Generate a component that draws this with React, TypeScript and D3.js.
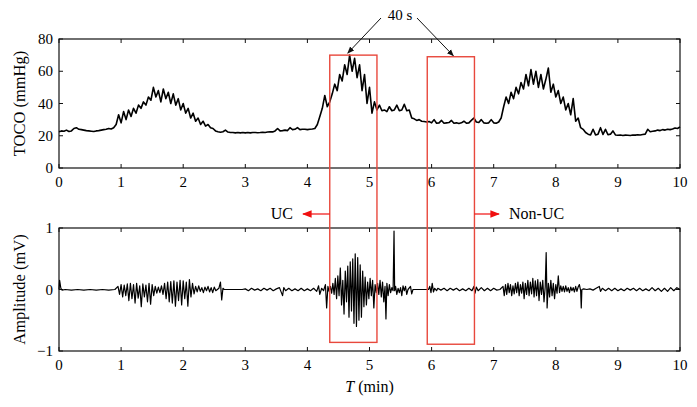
import React from "react";
import * as d3 from "d3";

// TOCO trace, sampled every 0.04 min from 0 to 10 min (mmHg)
const tocoValues = [
  22.5, 23, 22.8, 23.5, 22.6, 23, 24.5, 25, 24, 23.8, 23.5, 23.2, 23, 22.8, 22.6, 23, 23.2, 23.5, 23.8, 24, 24.5, 24.2, 25,
  27, 33, 28, 35, 30, 36, 32, 37, 34, 39, 37, 41, 39, 44, 42,
  50, 44, 48, 41, 49, 43, 47, 40,
  46, 39, 43, 36, 40, 34, 37, 31, 34, 29, 31, 27, 29, 26, 27, 25, 24.5,
  23, 22.5, 22.2, 22.5, 23.5, 22.3, 22, 22, 21.8, 22, 21.8, 22, 21.8, 22, 21.8, 22, 22, 21.9, 22, 22.2,
  22, 22.3, 22.5, 22.4, 23, 24.5, 23, 23.2, 23.5, 23.2, 25, 23.8, 24, 25, 23.8, 24, 24, 23.8, 24, 24.2,
  24.5, 27, 32, 37, 45, 38, 41, 46,
  52, 48, 58, 54, 64, 58, 70, 60, 68, 56, 64,
  48, 58, 40, 50, 34, 41,
  36, 39, 35.5, 36, 35, 38, 35.5, 36, 39, 35.5, 36, 39.5, 35.5,
  36, 31, 30.5, 29.5, 30, 29, 28.8,
  28.5, 28.8, 28, 30, 27.8, 28, 29.5, 27.8, 28, 28.2, 29.5, 27.8, 28, 27.6, 28,
  29, 27.8, 28, 29.5, 31, 28.5, 28.2, 30, 28, 27.8, 28, 30, 28, 27.8, 28.5,
  31, 38, 44, 40, 47, 43, 50, 46, 53, 49, 58, 51, 61,
  52, 60, 50, 58, 49, 55, 62, 47, 52, 44,
  48, 40, 44, 36, 40, 33, 43, 29, 31, 25, 24, 22,
  21, 20.5, 24, 20.5, 21, 25, 20.8, 24, 20.6, 21, 23, 20.5, 20.3, 20.5, 20.2, 20.4, 20.3, 20.2, 20.5,
  20.4, 20.6, 20.5, 20.8, 21, 24, 22.5, 22.8, 23, 23.5, 23.2, 23.8, 23.5, 24, 23.8, 24.2, 24.8, 24.5, 25.5,
];
const tocoStep = 0.04;

// EMG trace, [time (min), amplitude (mV)]
const emgPoints: [number, number][] = [
  [0, 0], [0.01, 0.15], [0.03, 0.02], [0.05, -0.01], [0.1, 0], [0.2, -0.01], [0.3, 0], [0.4, -0.01],
  [0.5, 0], [0.6, -0.01], [0.7, 0], [0.8, -0.01], [0.9, 0],
  [0.95, 0.05], [0.975, -0.08], [1.0, 0.08], [1.025, -0.12], [1.05, 0.07], [1.075, -0.1], [1.1, 0.09],
  [1.125, -0.18], [1.15, 0.1], [1.175, -0.15], [1.2, 0.08], [1.225, -0.22], [1.25, 0.1], [1.275, -0.14],
  [1.3, 0.06], [1.325, -0.28], [1.35, 0.09], [1.375, -0.12], [1.4, 0.07], [1.425, -0.2], [1.45, 0.1],
  [1.475, -0.24], [1.5, 0.08], [1.525, -0.1], [1.55, 0.05], [1.575, -0.06], [1.6, 0.04], [1.625, -0.05],
  [1.65, 0.06], [1.675, -0.08], [1.7, 0.1], [1.725, -0.15], [1.75, 0.12], [1.775, -0.2], [1.8, 0.13],
  [1.825, -0.22], [1.85, 0.14], [1.875, -0.27], [1.9, 0.12], [1.925, -0.18], [1.95, 0.15], [1.975, -0.25],
  [2.0, 0.14], [2.025, -0.15], [2.05, 0.12], [2.075, -0.27], [2.1, 0.16], [2.125, -0.12], [2.15, 0.1],
  [2.175, -0.07], [2.2, 0.05], [2.225, -0.04], [2.25, 0.06], [2.275, -0.03], [2.3, 0.03], [2.325, -0.05],
  [2.35, 0.04], [2.375, -0.02], [2.4, 0.05], [2.425, -0.04], [2.45, 0.03], [2.475, -0.05], [2.5, 0.04],
  [2.525, -0.02], [2.55, 0], [2.575, 0.02], [2.6, 0.12], [2.62, -0.17], [2.64, 0.02], [2.66, 0],
  [2.8, 0], [2.95, 0],
  [3.0, 0.01], [3.05, -0.02], [3.1, 0.02], [3.15, -0.01], [3.2, 0.01], [3.25, -0.02], [3.3, 0.02],
  [3.35, -0.01], [3.4, 0.02], [3.45, -0.02], [3.5, 0.01], [3.55, 0.03], [3.6, -0.1], [3.62, 0.03],
  [3.65, -0.02], [3.7, 0.02], [3.75, -0.02], [3.8, 0.01], [3.85, -0.02], [3.9, 0.02], [3.95, -0.02],
  [4.0, 0.01], [4.05, -0.02], [4.1, 0.02], [4.15, -0.03], [4.18, 0.06], [4.2, -0.08], [4.23, 0.02],
  [4.26, -0.02], [4.29, 0.08], [4.31, -0.3], [4.33, 0.05], [4.35, -0.03],
  [4.37, 0.05], [4.39, -0.06], [4.41, 0.1], [4.43, -0.08], [4.45, 0.18], [4.47, -0.15], [4.49, 0.22],
  [4.51, -0.1], [4.53, 0.35], [4.55, -0.25], [4.57, 0.15], [4.59, -0.4], [4.61, 0.3], [4.63, -0.2],
  [4.65, 0.38], [4.67, -0.45], [4.69, 0.45], [4.71, -0.35], [4.73, 0.5], [4.75, -0.55], [4.77, 0.58],
  [4.79, -0.6], [4.81, 0.52], [4.83, -0.5], [4.85, 0.4], [4.87, -0.45], [4.89, 0.3], [4.91, -0.28],
  [4.93, 0.2], [4.95, -0.25], [4.97, 0.12], [4.99, -0.15], [5.01, 0.18], [5.03, -0.1], [5.05, 0.15],
  [5.07, -0.3], [5.09, 0.08], [5.11, -0.05], [5.13, 0.1], [5.15, -0.08], [5.17, 0.15], [5.19, -0.12],
  [5.21, 0.12], [5.23, -0.2], [5.25, 0.05], [5.265, -0.48], [5.28, 0.1], [5.3, -0.1], [5.32, 0.08],
  [5.34, -0.05], [5.36, 0.03], [5.38, -0.02], [5.395, 0.95], [5.405, -0.02], [5.42, 0.05], [5.44, -0.08],
  [5.46, 0.02], [5.48, -0.05], [5.5, 0.03], [5.52, -0.1], [5.54, 0.06], [5.56, -0.02], [5.58, 0.05],
  [5.6, -0.08], [5.62, 0], [5.66, 0.05], [5.68, -0.07], [5.7, 0],
  [5.8, 0], [5.95, 0],
  [5.97, 0.05], [5.99, -0.05], [6.01, 0.1], [6.03, -0.04], [6.05, 0.02], [6.08, -0.02], [6.1, 0.02],
  [6.15, -0.01], [6.2, 0.02], [6.25, -0.02], [6.3, 0.02], [6.35, -0.01], [6.4, 0.02], [6.45, -0.02],
  [6.5, 0.01], [6.55, -0.02], [6.6, 0.02], [6.65, -0.02], [6.68, 0.05], [6.7, -0.06], [6.72, 0.04],
  [6.75, -0.02], [6.8, 0.03], [6.85, -0.02], [6.9, 0.02], [6.95, -0.02], [7.0, 0.02], [7.05, -0.01], [7.1, 0],
  [7.15, 0.05], [7.17, -0.1], [7.19, 0.08], [7.21, -0.08], [7.23, 0.1], [7.25, -0.05], [7.27, 0.08],
  [7.29, -0.1], [7.31, 0.06], [7.33, -0.07], [7.35, 0.1], [7.37, -0.05], [7.39, 0.12], [7.41, -0.1],
  [7.43, 0.08], [7.45, -0.06], [7.47, 0.12], [7.49, -0.15], [7.51, 0.1], [7.53, -0.08], [7.55, 0.15],
  [7.57, -0.1], [7.59, 0.12], [7.61, -0.07], [7.63, 0.18], [7.65, -0.12], [7.67, 0.14], [7.69, -0.1],
  [7.71, 0.16], [7.73, -0.18], [7.75, 0.12], [7.77, -0.08], [7.79, 0.15], [7.81, -0.2], [7.83, 0.05],
  [7.845, 0.6], [7.86, -0.3], [7.88, 0.1], [7.9, -0.12], [7.92, 0.15], [7.94, -0.1], [7.96, 0.1],
  [7.98, -0.15], [8.0, 0.08], [8.02, -0.06], [8.04, 0.22], [8.06, -0.05], [8.08, 0.06], [8.1, -0.03],
  [8.12, 0.05], [8.14, -0.04], [8.16, 0.06], [8.18, -0.03], [8.2, 0.03], [8.22, -0.05], [8.24, 0.04],
  [8.26, -0.02], [8.28, 0.03], [8.3, -0.04], [8.32, 0.05], [8.34, -0.03], [8.36, 0.04], [8.38, 0.08],
  [8.4, -0.02], [8.41, -0.3], [8.42, 0], [8.45, 0.01],
  [8.5, 0], [8.55, 0.01], [8.6, -0.01], [8.65, 0.02], [8.7, 0.05], [8.72, -0.03], [8.75, 0.02],
  [8.8, -0.02], [8.85, 0.02], [8.9, -0.02], [8.95, 0.02], [9.0, -0.02], [9.05, 0.01], [9.1, -0.02],
  [9.15, 0.02], [9.2, -0.01], [9.25, 0.02], [9.3, -0.02], [9.35, 0.02], [9.4, -0.02], [9.45, 0.01],
  [9.5, -0.02], [9.55, 0.03], [9.6, -0.02], [9.65, 0.02], [9.7, -0.03], [9.75, 0.02], [9.8, -0.03],
  [9.85, 0.03], [9.9, -0.02], [9.95, 0.03], [10, 0],
];

const xTicks = [0, 1, 2, 3, 4, 5, 6, 7, 8, 9, 10];
const tocoTicks = [0, 20, 40, 60, 80];
const ampTicks = [-1, 0, 1];

// 40 s windows: [start min, end min, top TOCO value, bottom amplitude value]
const windows: [number, number, number, number][] = [
  [4.36, 5.12, 70, -0.86],
  [5.93, 6.69, 69, -0.89],
];

const W = 697;
const H = 407;
const left = 59;
const right = 680;
const FONT = "'Liberation Serif', 'DejaVu Serif', serif";
const RED = "#e8483c";

export default function App() {
  const x = d3.scaleLinear().domain([0, 10]).range([left, right]);
  const yTop = d3.scaleLinear().domain([0, 80]).range([168, 39]);
  const yBot = d3.scaleLinear().domain([-1, 1]).range([351, 228]);

  const tocoLine = d3
    .line<number>()
    .x((_, i) => x(i * tocoStep))
    .y((d) => yTop(d));
  const emgLine = d3
    .line<[number, number]>()
    .x((d) => x(d[0]))
    .y((d) => yBot(d[1]));

  const tick = 4;

  const panel = (
    y: d3.ScaleLinear<number, number>,
    yTicks: number[],
    fmt: (v: number) => string
  ) => {
    const [y0, y1] = y.range();
    return (
      <g>
        <rect x={left} y={y1} width={right - left} height={y0 - y1} fill="none" stroke="#111" strokeWidth={1.2} />
        {xTicks.map((t) => (
          <g key={"x" + t}>
            <line x1={x(t)} x2={x(t)} y1={y0} y2={y0 - tick} stroke="#111" />
            <line x1={x(t)} x2={x(t)} y1={y1} y2={y1 + tick} stroke="#111" />
            <text x={x(t)} y={y0 + 19} textAnchor="middle" fontSize={15}>
              {t}
            </text>
          </g>
        ))}
        {yTicks.map((t) => (
          <g key={"y" + t}>
            <line x1={left} x2={left + tick} y1={y(t)} y2={y(t)} stroke="#111" />
            <line x1={right} x2={right - tick} y1={y(t)} y2={y(t)} stroke="#111" />
            <text x={left - 6} y={y(t)} dy="0.34em" textAnchor="end" fontSize={15}>
              {fmt(t)}
            </text>
          </g>
        ))}
      </g>
    );
  };

  return (
    <svg
      width={W}
      height={H}
      style={{ position: "absolute", left: 0, top: 0, background: "#fff" }}
      fontFamily={FONT}
    >
      <defs>
        <marker id="blackHead" viewBox="0 0 10 10" refX="9" refY="5" markerWidth="7" markerHeight="7" orient="auto">
          <path d="M0,1 L10,5 L0,9 z" fill="#111" />
        </marker>
        <marker id="redHead" viewBox="0 0 10 10" refX="9" refY="5" markerWidth="8" markerHeight="8" orient="auto">
          <path d="M0,1 L10,5 L0,9 z" fill="#f01010" />
        </marker>
      </defs>

      {panel(yTop, tocoTicks, (v) => String(v))}
      {panel(yBot, ampTicks, (v) => (v < 0 ? "\u2212" + Math.abs(v) : String(v)))}

      <path d={tocoLine(tocoValues) ?? ""} fill="none" stroke="#000" strokeWidth={1.6} strokeLinejoin="round" />
      <path d={emgLine(emgPoints) ?? ""} fill="none" stroke="#000" strokeWidth={1.2} strokeLinejoin="round" />

      {windows.map(([a, b, top, bot], i) => (
        <rect
          key={i}
          x={x(a)}
          y={yTop(top)}
          width={x(b) - x(a)}
          height={yBot(bot) - yTop(top)}
          fill="none"
          stroke={RED}
          strokeWidth={1.4}
        />
      ))}

      {/* 40 s annotation */}
      <text x={400} y={20} textAnchor="middle" fontSize={15}>
        40 s
      </text>
      <line x1={381} y1={18} x2={x(4.65)} y2={yTop(70) - 2} stroke="#111" strokeWidth={1} markerEnd="url(#blackHead)" />
      <line x1={417} y1={18} x2={x(6.35)} y2={yTop(69) - 1} stroke="#111" strokeWidth={1} markerEnd="url(#blackHead)" />

      {/* UC / Non-UC labels */}
      <line x1={x(windows[0][0])} y1={214} x2={303} y2={214} stroke="#f01010" strokeWidth={1.2} markerEnd="url(#redHead)" />
      <text x={293} y={219} textAnchor="end" fontSize={16}>
        UC
      </text>
      <line x1={x(windows[1][1])} y1={214} x2={499} y2={214} stroke="#f01010" strokeWidth={1.2} markerEnd="url(#redHead)" />
      <text x={509} y={219} fontSize={16}>
        Non-UC
      </text>

      {/* axis labels */}
      <text transform={`translate(25,${(39 + 168) / 2}) rotate(-90)`} textAnchor="middle" fontSize={16.5}>
        TOCO (mmHg)
      </text>
      <text transform={`translate(25,${(228 + 351) / 2}) rotate(-90)`} textAnchor="middle" fontSize={16.5}>
        Amplitude (mV)
      </text>
      <text x={(left + right) / 2} y={392} textAnchor="middle" fontSize={16}>
        <tspan fontStyle="italic">T</tspan> (min)
      </text>
    </svg>
  );
}
